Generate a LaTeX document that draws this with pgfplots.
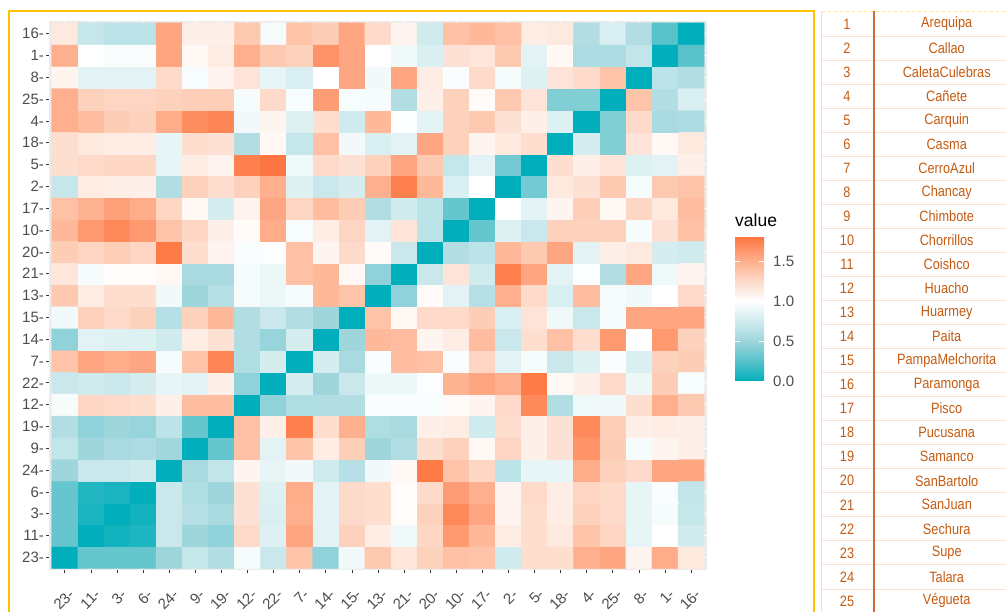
\documentclass[border=0pt]{standalone}
\usepackage{pgfplots}
\pgfplotsset{compat=1.18}
\usepackage{fontspec}
\setmainfont{Liberation Sans}
\newfontfamily\narrowfont[FakeStretch=0.85]{Liberation Sans}
\definecolor{ggbg}{RGB}{235,235,235}
\definecolor{gg30}{RGB}{77,77,77}
\definecolor{gg20}{RGB}{51,51,51}
\definecolor{boxgold}{RGB}{255,192,0}
\definecolor{lyel}{RGB}{255,226,150}
\definecolor{tbrown}{RGB}{197,90,17}
\definecolor{divbrown}{RGB}{200,110,60}
\definecolor{sepc}{RGB}{250,226,210}
\pgfplotsset{colormap={tealorange}{rgb255(0cm)=(0,175,187); rgb255(25cm)=(88,194,203); rgb255(50cm)=(158,214,220); rgb255(75cm)=(208,235,238); rgb255(100cm)=(255,255,255); rgb255(125cm)=(253,218,201); rgb255(150cm)=(254,176,142); rgb255(180cm)=(254,118,66)}}
\begin{document}
\begin{tikzpicture}[x=1pt,y=1pt]
\path[use as bounding box] (0,0) rectangle (1006,612);
\begin{axis}[
  at={(49.1pt,41.5pt)}, anchor=south west,
  scale only axis, width=657.7pt, height=549.9pt,
  xmin=-0.6, xmax=24.6, ymin=-0.6, ymax=24.6,
  axis background/.style={fill=ggbg},
  axis line style={draw=none},
  xtick={0,...,24}, ytick={0,...,24},
  xticklabels={23-,11-,3-,6-,24-,9-,19-,12-,22-,7-,14-,15-,13-,21-,20-,10-,17-,2-,5-,18-,4-,25-,8-,1-,16-},
  yticklabels={23-,11-,3-,6-,24-,9-,19-,12-,22-,7-,14-,15-,13-,21-,20-,10-,17-,2-,5-,18-,4-,25-,8-,1-,16-},
  tick pos=left, tick align=outside, major tick length=3pt,
  tick style={gg20, line width=0.7pt},
  ticklabel style={font=\fontsize{15}{15}\selectfont, text=gg30},
  xticklabel style={rotate=45, anchor=north east, inner sep=1pt, xshift=-7.1pt, yshift=-11.3pt},
  yticklabel style={inner sep=2pt},
  grid=major, major grid style={white, line width=0.8pt},
  colormap name=tealorange,
  point meta min=0, point meta max=1.8,
  colorbar,
  colorbar/width=29pt,
  colorbar style={
    at={(parent axis.south east)}, anchor=south west,
    xshift=19.7pt, yshift=189.5pt,
    width=29pt, height=144pt,
    ymin=0, ymax=1.8,
    ytick={0,0.5,1,1.5}, yticklabels={0.0,0.5,1.0,1.5},
    ytick pos=both, yticklabel pos=right,
    tick align=inside, major tick length=5pt,
    tick style={white, line width=0.8pt},
    axis line style={draw=none},
    yticklabel style={font=\fontsize{15}{15}\selectfont, text=gg30, inner sep=2pt, xshift=7pt},
  },
]
\addplot[matrix plot*, mesh/cols=25, point meta=explicit] table[row sep=\\, x expr={mod(\coordindex,25)}, y expr={floor((\coordindex+0.5)/25)}, meta=v] {
v\\
0\\ 0.3\\ 0.3\\ 0.3\\ 0.5\\ 0.7\\ 0.6\\ 0.95\\ 0.72\\ 1.38\\ 0.45\\ 0.93\\ 1.35\\ 1.17\\ 1.3\\ 1.4\\ 1.38\\ 0.75\\ 1.22\\ 1.22\\ 1.5\\ 1.55\\ 1.07\\ 1.52\\ 1.15\\
0.3\\ 0\\ 0.05\\ 0.08\\ 0.72\\ 0.5\\ 0.45\\ 1.25\\ 0.82\\ 1.55\\ 0.85\\ 1.3\\ 1.12\\ 0.92\\ 1.27\\ 1.62\\ 1.45\\ 1.12\\ 1.22\\ 1.15\\ 1.38\\ 1.28\\ 0.88\\ 1.0\\ 0.75\\
0.3\\ 0.07\\ 0\\ 0.05\\ 0.72\\ 0.62\\ 0.55\\ 1.2\\ 0.8\\ 1.5\\ 0.85\\ 1.25\\ 1.22\\ 1.02\\ 1.3\\ 1.7\\ 1.55\\ 1.08\\ 1.22\\ 1.12\\ 1.3\\ 1.25\\ 0.88\\ 0.95\\ 0.7\\
0.3\\ 0.1\\ 0.07\\ 0\\ 0.72\\ 0.58\\ 0.5\\ 1.2\\ 0.82\\ 1.52\\ 0.85\\ 1.25\\ 1.22\\ 1.02\\ 1.25\\ 1.6\\ 1.5\\ 1.08\\ 1.25\\ 1.12\\ 1.28\\ 1.25\\ 0.88\\ 0.97\\ 0.68\\
0.5\\ 0.72\\ 0.72\\ 0.75\\ 0\\ 0.55\\ 0.68\\ 1.07\\ 0.88\\ 0.93\\ 0.75\\ 0.62\\ 0.93\\ 1.05\\ 1.78\\ 1.38\\ 1.27\\ 0.65\\ 0.88\\ 0.88\\ 1.52\\ 1.3\\ 1.25\\ 1.55\\ 1.55\\
0.68\\ 0.5\\ 0.55\\ 0.57\\ 0.52\\ 0\\ 0.3\\ 1.4\\ 0.85\\ 1.38\\ 1.12\\ 1.32\\ 0.5\\ 0.6\\ 1.22\\ 1.3\\ 1.05\\ 1.28\\ 1.1\\ 1.2\\ 1.65\\ 1.33\\ 0.95\\ 1.07\\ 1.1\\
0.6\\ 0.45\\ 0.5\\ 0.48\\ 0.65\\ 0.3\\ 0\\ 1.4\\ 1.1\\ 1.75\\ 1.22\\ 1.5\\ 0.58\\ 0.55\\ 1.1\\ 1.12\\ 0.75\\ 1.22\\ 1.1\\ 1.2\\ 1.7\\ 1.32\\ 1.1\\ 1.12\\ 1.1\\
0.95\\ 1.27\\ 1.25\\ 1.22\\ 1.1\\ 1.42\\ 1.42\\ 0\\ 0.45\\ 0.58\\ 0.6\\ 0.6\\ 0.97\\ 0.97\\ 0.97\\ 1.03\\ 1.07\\ 1.25\\ 1.7\\ 0.6\\ 0.92\\ 0.93\\ 1.22\\ 1.5\\ 1.35\\
0.72\\ 0.75\\ 0.72\\ 0.78\\ 0.87\\ 0.85\\ 1.1\\ 0.45\\ 0\\ 0.78\\ 0.5\\ 0.72\\ 0.9\\ 0.9\\ 0.98\\ 1.48\\ 1.55\\ 1.5\\ 1.78\\ 1.04\\ 1.1\\ 1.25\\ 0.9\\ 1.33\\ 0.96\\
1.38\\ 1.55\\ 1.52\\ 1.55\\ 0.95\\ 1.38\\ 1.72\\ 0.58\\ 0.78\\ 0\\ 0.78\\ 0.55\\ 0.97\\ 1.42\\ 1.4\\ 0.97\\ 1.28\\ 0.85\\ 0.95\\ 0.72\\ 0.82\\ 0.97\\ 0.8\\ 1.3\\ 1.33\\
0.45\\ 0.85\\ 0.82\\ 0.82\\ 0.75\\ 1.12\\ 1.2\\ 0.6\\ 0.48\\ 0.78\\ 0\\ 0.5\\ 1.45\\ 1.42\\ 1.07\\ 1.12\\ 1.42\\ 0.72\\ 1.22\\ 1.4\\ 1.22\\ 1.62\\ 1.0\\ 1.62\\ 1.3\\
0.93\\ 1.3\\ 1.25\\ 1.3\\ 0.62\\ 1.3\\ 1.45\\ 0.6\\ 0.72\\ 0.6\\ 0.5\\ 0\\ 1.38\\ 1.05\\ 1.25\\ 1.25\\ 1.33\\ 0.8\\ 1.18\\ 0.92\\ 0.72\\ 0.95\\ 1.55\\ 1.55\\ 1.55\\
1.35\\ 1.12\\ 1.22\\ 1.22\\ 0.93\\ 0.5\\ 0.62\\ 0.95\\ 0.9\\ 0.95\\ 1.45\\ 1.38\\ 0\\ 0.45\\ 1.03\\ 0.85\\ 0.62\\ 1.5\\ 1.25\\ 0.8\\ 1.42\\ 0.95\\ 0.93\\ 1.0\\ 1.25\\
1.17\\ 0.95\\ 1.02\\ 1.02\\ 1.05\\ 0.55\\ 0.55\\ 0.95\\ 0.9\\ 1.4\\ 1.45\\ 1.05\\ 0.45\\ 0\\ 0.72\\ 1.18\\ 0.75\\ 1.75\\ 1.55\\ 0.85\\ 0.98\\ 0.6\\ 1.55\\ 0.92\\ 1.07\\
1.33\\ 1.28\\ 1.32\\ 1.27\\ 1.78\\ 1.22\\ 1.08\\ 0.97\\ 0.98\\ 1.4\\ 1.07\\ 1.25\\ 1.03\\ 0.72\\ 0\\ 0.6\\ 0.65\\ 1.45\\ 1.35\\ 1.55\\ 0.85\\ 1.1\\ 1.15\\ 0.78\\ 0.75\\
1.45\\ 1.62\\ 1.7\\ 1.62\\ 1.38\\ 1.27\\ 1.1\\ 1.03\\ 1.52\\ 0.96\\ 1.12\\ 1.28\\ 0.85\\ 1.18\\ 0.65\\ 0\\ 0.3\\ 0.82\\ 0.72\\ 1.3\\ 1.3\\ 1.3\\ 0.95\\ 1.2\\ 1.4\\
1.4\\ 1.48\\ 1.58\\ 1.52\\ 1.27\\ 1.05\\ 0.78\\ 1.08\\ 1.55\\ 1.27\\ 1.42\\ 1.33\\ 0.6\\ 0.75\\ 0.65\\ 0.3\\ 0\\ 1.0\\ 0.85\\ 1.07\\ 1.32\\ 1.04\\ 1.27\\ 1.15\\ 1.42\\
0.7\\ 1.13\\ 1.1\\ 1.1\\ 0.6\\ 1.3\\ 1.22\\ 1.3\\ 1.5\\ 0.82\\ 0.72\\ 0.78\\ 1.5\\ 1.75\\ 1.45\\ 0.8\\ 1.0\\ 0\\ 0.35\\ 1.15\\ 1.2\\ 1.35\\ 0.95\\ 1.35\\ 1.38\\
1.22\\ 1.25\\ 1.27\\ 1.27\\ 0.88\\ 1.12\\ 1.08\\ 1.75\\ 1.8\\ 0.92\\ 1.25\\ 1.2\\ 1.3\\ 1.55\\ 1.35\\ 0.7\\ 0.85\\ 0.35\\ 0\\ 1.22\\ 1.1\\ 1.18\\ 0.82\\ 0.85\\ 1.1\\
1.22\\ 1.15\\ 1.12\\ 1.12\\ 0.88\\ 1.22\\ 1.2\\ 0.6\\ 1.05\\ 0.7\\ 1.4\\ 0.93\\ 0.8\\ 0.85\\ 1.55\\ 1.3\\ 1.07\\ 1.15\\ 1.22\\ 0\\ 0.78\\ 0.4\\ 1.18\\ 1.05\\ 1.15\\
1.5\\ 1.42\\ 1.33\\ 1.3\\ 1.52\\ 1.68\\ 1.72\\ 0.93\\ 1.07\\ 0.82\\ 1.22\\ 0.75\\ 1.45\\ 0.98\\ 0.85\\ 1.3\\ 1.35\\ 1.2\\ 1.1\\ 0.82\\ 0\\ 0.4\\ 1.25\\ 0.55\\ 0.57\\
1.5\\ 1.3\\ 1.28\\ 1.28\\ 1.3\\ 1.32\\ 1.32\\ 0.95\\ 1.25\\ 0.96\\ 1.6\\ 0.96\\ 0.95\\ 0.6\\ 1.1\\ 1.3\\ 1.03\\ 1.35\\ 1.18\\ 0.4\\ 0.4\\ 0\\ 1.38\\ 0.6\\ 0.8\\
1.07\\ 0.85\\ 0.85\\ 0.85\\ 1.25\\ 0.96\\ 1.08\\ 1.18\\ 0.88\\ 0.8\\ 1.0\\ 1.55\\ 0.93\\ 1.55\\ 1.12\\ 0.97\\ 1.25\\ 0.95\\ 0.82\\ 1.18\\ 1.25\\ 1.38\\ 0\\ 0.65\\ 0.6\\
1.5\\ 1.0\\ 0.97\\ 0.97\\ 1.55\\ 1.05\\ 1.12\\ 1.5\\ 1.35\\ 1.3\\ 1.65\\ 1.55\\ 1.0\\ 0.92\\ 0.8\\ 1.2\\ 1.17\\ 1.35\\ 0.85\\ 1.05\\ 0.57\\ 0.57\\ 0.68\\ 0\\ 0.25\\
1.15\\ 0.7\\ 0.65\\ 0.65\\ 1.55\\ 1.1\\ 1.1\\ 1.35\\ 0.95\\ 1.38\\ 1.33\\ 1.55\\ 1.25\\ 1.07\\ 0.75\\ 1.4\\ 1.45\\ 1.4\\ 1.12\\ 1.15\\ 0.6\\ 0.8\\ 0.6\\ 0.25\\ 0\\
};
\end{axis}
% colorbar title
\node[anchor=west, inner sep=0pt, font=\fontsize{17.5}{18}\selectfont, text=black] at (735,392) {value};
% main frame
\draw[boxgold, line width=2pt] (9,-3) -- (9,601) -- (814,601) -- (814,-3);
% table
\foreach \k in {1,...,24} {
  \draw[sepc, line width=0.9pt] (822,{612-12-\k*24.04}) -- (1008,{612-12-\k*24.04});
}
\draw[lyel, line width=1.2pt, dashed] (822,600.5) -- (1008,600.5);
\draw[lyel, line width=1.5pt] (821.7,601) -- (821.7,-3);
\draw[divbrown, line width=1.8pt] (874.3,601) -- (874.3,-3);
\foreach \i/\nm in {1/Arequipa,2/Callao,3/CaletaCulebras,4/Cañete,5/Carquin,6/Casma,7/CerroAzul,8/Chancay,9/Chimbote,10/Chorrillos,11/Coishco,12/Huacho,13/Huarmey,14/Paita,15/PampaMelchorita,16/Paramonga,17/Pisco,18/Pucusana,19/Samanco,20/SanBartolo,21/SanJuan,22/Sechura,23/Supe,24/Talara,25/Végueta} {
  \node[text=tbrown, font=\narrowfont\fontsize{15}{16}\selectfont, inner sep=0pt] at (847,{612-24-(\i-1)*24.04}) {\i};
  \node[text=tbrown, font=\narrowfont\fontsize{15}{16}\selectfont, inner sep=0pt] at (946.7,{612-24-(\i-1)*24.04}) {\nm};
}
\end{tikzpicture}
\end{document}
